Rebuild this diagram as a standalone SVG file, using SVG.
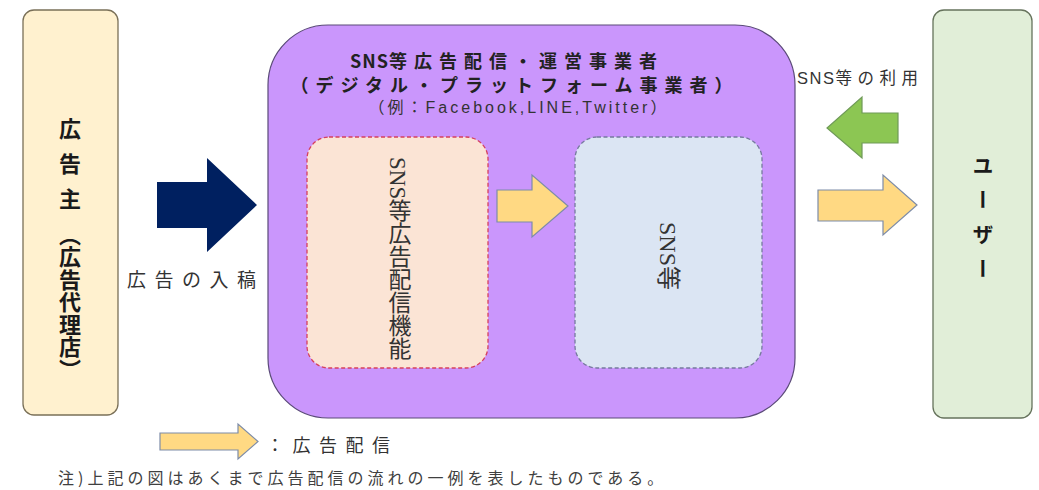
<svg xmlns="http://www.w3.org/2000/svg" width="1039" height="490" viewBox="0 0 1039 490">
<style>
  .jp { font-family: "Noto Sans CJK JP", "Noto Sans", sans-serif; }
  .lat { font-family: "Liberation Sans", "Noto Sans CJK JP", sans-serif; }
  .ser { font-family: "Liberation Serif", "Noto Sans CJK JP", serif; }
  .bold { font-weight: bold; }
  .vert { writing-mode: vertical-rl; }
  .ya { fill: #ffd983; stroke: #7d8ca8; stroke-width: 1.2; }
</style>
<rect width="1039" height="490" fill="#ffffff"/>

<g id="advertiser">
  <rect x="23" y="10" width="95" height="405" rx="11" fill="#fff1cf" stroke="#7a7058" stroke-width="1.3"/>
  <g class="jp bold" font-size="22" fill="#1a1a1a" text-anchor="middle" dominant-baseline="central">
    <text x="70" y="127">広</text>
    <text x="70" y="162">告</text>
    <text x="70" y="197">主</text>
  </g>
  <text class="jp bold vert" x="70" y="223.5" font-size="22" letter-spacing="0.5" fill="#1a1a1a">（広告代理店）</text>
</g>

<g id="platform">
  <rect x="268" y="25" width="527" height="393" rx="60" fill="#ca96fc" stroke="#5a4a78" stroke-width="1.2"/>
  <text class="jp bold" x="350" y="68" font-size="18" fill="#222"><tspan letter-spacing="1">SNS</tspan><tspan letter-spacing="7">等広告配信・運営事業者</tspan></text>
  <text class="jp bold" x="515" y="92" font-size="18" letter-spacing="7" text-anchor="middle" fill="#222">（デジタル・プラットフォーム事業者）</text>
  <text class="lat" x="519" y="113" font-size="16" letter-spacing="3" text-anchor="middle" fill="#333">（例：Facebook,LINE,Twitter）</text>
</g>

<g id="ad-function">
  <rect x="307" y="137" width="181" height="231" rx="22" fill="#fbe4d5" stroke="#d6405e" stroke-width="1.3" stroke-dasharray="4 2.5"/>
  <text class="ser vert" x="397.5" y="157" font-size="23" fill="#333">SNS等広告配信機能</text>
</g>

<g id="sns">
  <rect x="575" y="137" width="187" height="231" rx="22" fill="#dbe5f3" stroke="#767a9e" stroke-width="1.3" stroke-dasharray="4 2.5"/>
  <text class="ser" transform="translate(668,256) rotate(90)" font-size="24" text-anchor="middle" dominant-baseline="central" fill="#333">SNS等</text>
</g>

<g id="user">
  <rect x="933" y="10" width="99" height="408" rx="11" fill="#e1eed8" stroke="#66735c" stroke-width="1.3"/>
  <text class="jp bold vert" x="983" y="154.5" font-size="21" letter-spacing="13.5" fill="#1a1a1a">ユーザー</text>
</g>

<g id="connectors">
  <polygon points="157,182 207,182 207,158 257,205 207,252 207,228 157,228" fill="#002060"/>
  <polygon class="ya" points="497,190 532,190 532,175 568,206 532,237 532,222 497,222"/>
  <polygon points="898,113 862,113 862,97 827,128 862,158 862,143 898,143" fill="#8cc653" stroke="#6f9a58" stroke-width="1.2"/>
  <polygon class="ya" points="818,190 883,190 883,175 917,205 883,235 883,221 818,221"/>
</g>

<g id="labels">
  <text class="jp" x="127" y="287" font-size="19" letter-spacing="8.5" fill="#333">広告の入稿</text>
  <text class="lat" x="797" y="84" font-size="16.5" fill="#333"><tspan letter-spacing="1.5">SNS</tspan><tspan letter-spacing="5.5">等の利用</tspan></text>
</g>

<g id="legend">
  <polygon class="ya" points="160,433 238,433 238,424 258,441.5 238,459 238,450 160,450"/>
  <text class="jp" x="266" y="452" font-size="18" letter-spacing="8.5" fill="#333">：広告配信</text>
</g>

<g id="note">
  <text class="jp" x="58" y="484" font-size="16" letter-spacing="4" fill="#404040">注)上記の図はあくまで広告配信の流れの一例を表したものである。</text>
</g>
</svg>
